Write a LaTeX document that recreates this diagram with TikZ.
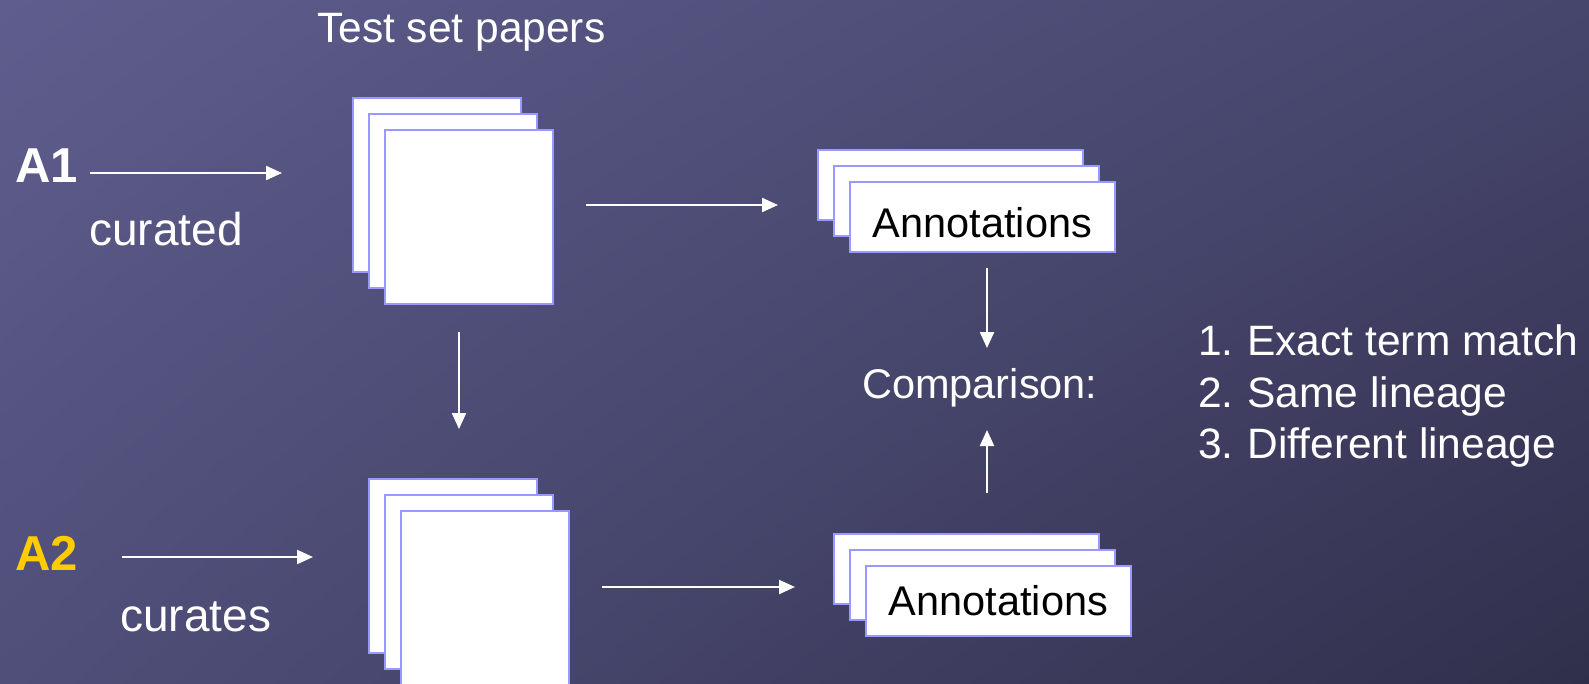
\documentclass[tikz,border=0pt]{standalone}
\usepackage{fontspec}
\setmainfont{Liberation Sans}
\usetikzlibrary{arrows.meta,shadings}
\definecolor{bgUL}{RGB}{94,93,141}
\definecolor{bgUR}{RGB}{70,69,108}
\definecolor{bgLL}{RGB}{80,79,122}
\definecolor{bgLR}{RGB}{48,47,75}
\definecolor{sheetedge}{RGB}{153,153,255}
\definecolor{gold}{RGB}{255,204,0}
\begin{document}
\begin{tikzpicture}[x=1pt,y=-1pt,
  paper/.style={draw=sheetedge, fill=white, line width=2pt, inner sep=0pt, anchor=north west,
    minimum width=168pt, minimum height=174pt},
  annot/.style={draw=sheetedge, fill=white, line width=2pt, inner sep=0pt, anchor=north west,
    minimum width=265pt, minimum height=70pt},
  arr/.style={draw=white, line width=2.2pt, -{Triangle[length=16pt,width=14pt]}},
  lbl/.style={text=white, inner sep=0pt, anchor=base west, font=\fontsize{42.5}{51}\selectfont},
  big/.style={text=white, inner sep=0pt, anchor=base west, font=\fontsize{46}{55}\selectfont},
  who/.style={inner sep=0pt, anchor=base west, font=\fontsize{49}{58}\selectfont\bfseries},
  anntext/.style={text=black, inner sep=0pt, anchor=base, font=\fontsize{41.5}{50}\selectfont},
]
\useasboundingbox (0,0) rectangle (1589,683);
\shade[upper left=bgUL, upper right=bgUR, lower left=bgLL, lower right=bgLR] (0,0) rectangle (1589,683);

% title
\node[lbl] (title) at (317,42) {Test set papers};

% curators
\node[who, text=white] (a1) at (15,182) {A1};
\node[big] (curated) at (89,245) {curated};
\node[who, text=gold] (a2) at (15,570) {A2};
\node[big] (curates) at (120,631) {curates};

% paper stacks
\node[paper] (p1a) at (352,97) {};
\node[paper] (p1b) at (368,113) {};
\node[paper] (p1c) at (384,129) {};
\node[paper] (p2a) at (368,478) {};
\node[paper] (p2b) at (384,494) {};
\node[paper] (p2c) at (400,510) {};

% annotation stacks
\node[annot] (n1a) at (817,149) {};
\node[annot] (n1b) at (833,165) {};
\node[annot] (n1c) at (849,181) {};
\node[anntext] (n1t) at (n1c.center |- 0,237) {Annotations};
\node[annot] (n2a) at (833,533) {};
\node[annot] (n2b) at (849,549) {};
\node[annot] (n2c) at (865,565) {};
\node[anntext] (n2t) at (n2c.center |- 0,615) {Annotations};

% comparison
\node[lbl, font=\fontsize{41.5}{50}\selectfont] (cmp) at (862,398) {Comparison:};
\node[lbl] (l1) at (1198,355) {1.\kern-2pt{} Exact term match};
\node[lbl] (l2) at (1198,407) {2.\kern-2pt{} Same lineage};
\node[lbl] (l3) at (1198,458) {3.\kern-2pt{} Different lineage};

% arrow ends
\coordinate (a1s) at (90,173);   \coordinate (a1e) at (282,173);
\coordinate (p1s) at (586,205);  \coordinate (p1e) at (778,205);
\coordinate (pds) at (459,332);  \coordinate (pde) at (459,429);
\coordinate (a2s) at (122,557);  \coordinate (a2e) at (313,557);
\coordinate (p2s) at (602,587);  \coordinate (p2e) at (795,587);
\coordinate (c1s) at (987,268);  \coordinate (c1e) at (987,348);
\coordinate (c2s) at (987,493);  \coordinate (c2e) at (987,430);

\draw[arr] (a1s) -- (a1e);
\draw[arr] (p1s) -- (p1e);
\draw[arr] (pds) -- (pde);
\draw[arr] (a2s) -- (a2e);
\draw[arr] (p2s) -- (p2e);
\draw[arr] (c1s) -- (c1e);
\draw[arr] (c2s) -- (c2e);
\end{tikzpicture}
\end{document}
